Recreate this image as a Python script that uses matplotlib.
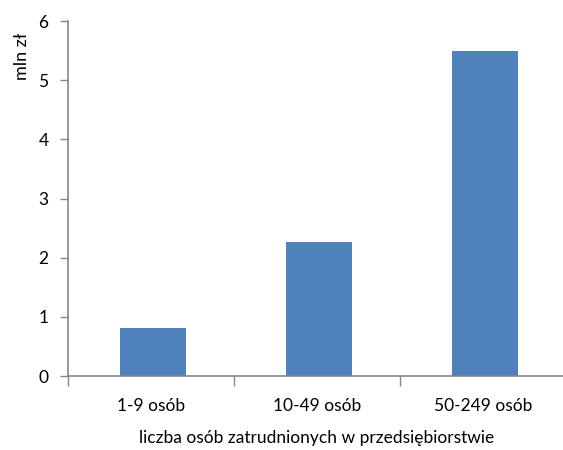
import matplotlib
matplotlib.use("Agg")
import matplotlib.pyplot as plt
import numpy as np

# ── Data ──────────────────────────────────────────────────────────────────────
categories = ["1-9 osób", "10-49 osób", "50-249 osób"]
values = [0.81, 2.27, 5.50]
y_ticks = [0, 1, 2, 3, 4, 5, 6]

_BAR = "#4f81bd"
_AXIS = "#868686"
_TEXT = "#000000"

plt.rcParams["font.family"] = ["Lato", "DejaVu Sans"]

fig = plt.figure(figsize=(5.63, 4.5), dpi=100)
ax = fig.add_axes([0.1208, 0.1644, 0.8845, 0.7889])

x = np.arange(len(categories))
ax.bar(x + 0.012, values, width=0.394, color=_BAR, zorder=2)

ax.set_xlim(-0.5, len(categories) - 0.5)
ax.set_ylim(0, 6)
ax.set_yticks(y_ticks)
ax.set_yticklabels([str(t) for t in y_ticks])

ax.set_xticks(x)
ax.set_xticklabels(categories)
ax.set_xticks(np.arange(len(categories) + 1) - 0.5, minor=True)
ax.tick_params(axis="x", which="major", length=0, pad=16, labelsize=12.5, colors=_TEXT)
ax.tick_params(axis="x", which="minor", length=7, width=1, color=_AXIS)
ax.tick_params(axis="y", length=6, width=1, color=_AXIS, pad=8, labelsize=12.5, labelcolor=_TEXT)

for side in ("top", "right"):
    ax.spines[side].set_visible(False)
for side in ("left", "bottom"):
    ax.spines[side].set_color(_AXIS)
    ax.spines[side].set_linewidth(1.2)

# axis titles placed like the original (y title near the top)
fig.text(22 / 563, 1 - 56 / 450, "mln zł", rotation=90, fontsize=13,
         ha="center", va="center", color=_TEXT)
fig.text(317 / 563, 1 - 438 / 450, "liczba osób zatrudnionych w przedsiębiorstwie",
         fontsize=12.5, ha="center", va="center", color=_TEXT)

fig.savefig("out.png", dpi=100)
